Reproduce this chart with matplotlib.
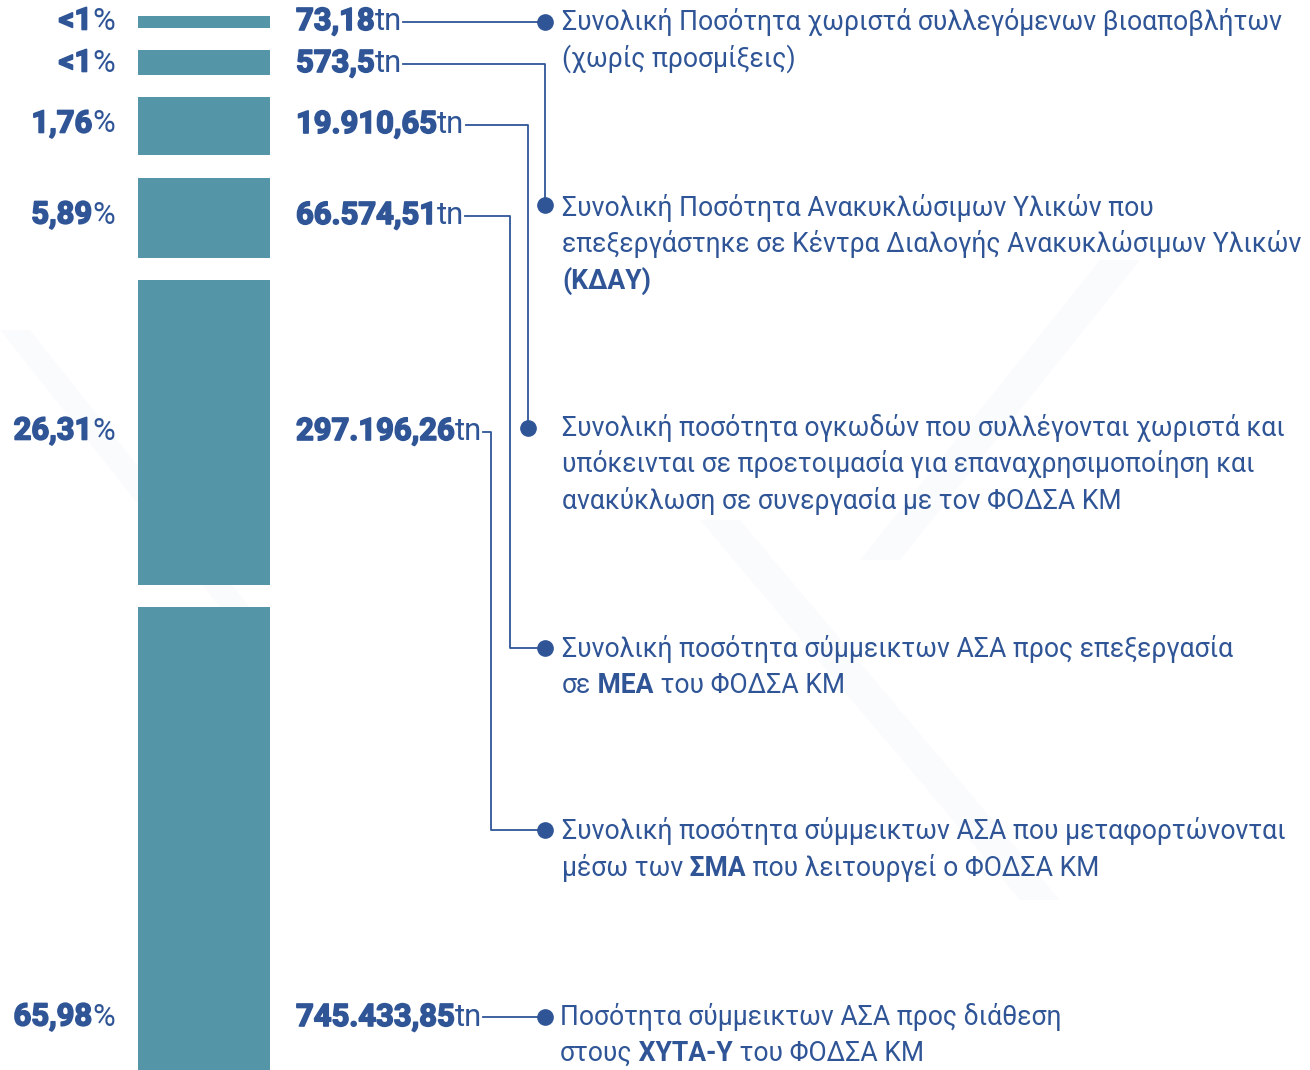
import matplotlib.pyplot as plt
import matplotlib.patheffects as pe
from matplotlib.patches import Polygon

# ---- data ----
pct_labels = ['<1', '<1', '1,76', '5,89', '26,31', '65,98']
tonnes = ['73,18', '573,5', '19.910,65', '66.574,51', '297.196,26', '745.433,85']

# each description: list of lines, each line a list of (text, bold?)
descriptions = [
    [[('Συνολική Ποσότητα χωριστά συλλεγόμενων βιοαποβλήτων', False)],
     [('(χωρίς προσμίξεις)', False)]],
    [[('Συνολική Ποσότητα Ανακυκλώσιμων Υλικών που', False)],
     [('επεξεργάστηκε σε Κέντρα Διαλογής Ανακυκλώσιμων Υλικών', False)],
     [('(ΚΔΑΥ)', True)]],
    [[('Συνολική ποσότητα ογκωδών που συλλέγονται χωριστά και', False)],
     [('υπόκεινται σε προετοιμασία για επαναχρησιμοποίηση και', False)],
     [('ανακύκλωση σε συνεργασία με τον ΦΟΔΣΑ ΚΜ', False)]],
    [[('Συνολική ποσότητα σύμμεικτων ΑΣΑ προς επεξεργασία', False)],
     [('σε', False), (' ΜΕΑ', True), (' του ΦΟΔΣΑ ΚΜ', False)]],
    [[('Συνολική ποσότητα σύμμεικτων ΑΣΑ που μεταφορτώνονται', False)],
     [('μέσω των', False), (' ΣΜΑ', True), (' που λειτουργεί ο ΦΟΔΣΑ ΚΜ', False)]],
    [[('Ποσότητα σύμμεικτων ΑΣΑ προς διάθεση', False)],
     [('στους', False), (' ΧΥΤΑ-Υ', True), (' του ΦΟΔΣΑ ΚΜ', False)]],
]

# ---- layout (pixels, y down) ----
seg_top = [16, 50, 97, 178, 280, 607]
seg_bot = [28, 75, 155, 258, 585, 1070]
row_y = [21, 63, 124, 215, 431, 1017]
desc_x = [562, 562, 562, 562, 562, 560]
desc_y = [22, 208, 428, 649, 831, 1017]
dot_x = [545, 545, 528, 545, 545, 545]
dot_y = [22, 205, 428, 648, 830, 1017]
route_x = [None, 545, 528, 510, 491, None]
LINE_STEP = 36.5

BLUE = '#2F5597'
TEAL = '#5496A7'
NUM_SIZE = 22.3
DESC_SIZE = 19.1
heavy = [pe.withStroke(linewidth=1.2, foreground=BLUE)]

fig = plt.figure(figsize=(13.1, 10.7), dpi=100)
ax = fig.add_axes([0, 0, 1, 1])
ax.set_xlim(0, 1310)
ax.set_ylim(1070, 0)
ax.axis('off')

# very faint background streaks
for pts in [[(700, 520), (740, 520), (1060, 900), (1020, 900)],
            [(0, 330), (30, 330), (260, 620), (230, 620)],
            [(1100, 260), (1140, 260), (900, 560), (860, 560)]]:
    ax.add_patch(Polygon(pts, closed=True, color='#f1f4fa', alpha=0.3, lw=0, zorder=0))

# stacked bar segments
ax.bar([204] * len(seg_top), [b - t for t, b in zip(seg_top, seg_bot)],
       bottom=seg_top, width=132, color=TEAL, zorder=2)


def runs_text(x, y, runs, size):
    t = ax.text(x, y, runs[0][0], family='Roboto', fontsize=size,
                fontweight='bold' if runs[0][1] else 'normal',
                color=BLUE, va='center', ha='left', zorder=3)
    for s, bold in runs[1:]:
        t = ax.annotate(s, xy=(1, 0), xycoords=t, va='bottom', ha='left',
                        family='Roboto', fontsize=size,
                        fontweight='bold' if bold else 'normal',
                        color=BLUE, zorder=3)
    return t


# percentage labels (right aligned)
for p, y in zip(pct_labels, row_y):
    pct = ax.text(115, y, '%', family='Roboto', fontweight='normal',
                  fontsize=NUM_SIZE, color=BLUE, va='center', ha='right', zorder=3)
    ax.annotate(p, xy=(0, 0), xycoords=pct, va='bottom', ha='right',
                family='Roboto', fontweight='bold', fontsize=NUM_SIZE,
                color=BLUE, zorder=3, path_effects=heavy)

# tonnage labels
tn_texts = []
for v, y in zip(tonnes, row_y):
    num = ax.text(296, y, v, family='Roboto', fontweight='bold',
                  fontsize=NUM_SIZE, color=BLUE, va='center', ha='left',
                  zorder=3, path_effects=heavy)
    tn = ax.annotate('tn', xy=(1, 0), xycoords=num, va='bottom', ha='left',
                     family='Roboto', fontweight='normal', fontsize=NUM_SIZE,
                     color=BLUE, zorder=3)
    tn_texts.append(tn)

# descriptions
for lines, x, y0 in zip(descriptions, desc_x, desc_y):
    for k, runs in enumerate(lines):
        runs_text(x, y0 + k * LINE_STEP, runs, DESC_SIZE)

# connectors
fig.canvas.draw()
inv = ax.transData.inverted()
for i, tn in enumerate(tn_texts):
    bb = tn.get_window_extent()
    x_end = inv.transform((bb.x1 + 1, 0))[0]
    if route_x[i] is None:
        xs, ys = [x_end, dot_x[i]], [dot_y[i], dot_y[i]]
    else:
        y = row_y[i] + 1
        xs = [x_end, route_x[i], route_x[i], dot_x[i]]
        ys = [y, y, dot_y[i], dot_y[i]]
    ax.plot(xs, ys, color=BLUE, lw=1.3, zorder=2)
    ax.plot(dot_x[i], dot_y[i], 'o', ms=11, color=BLUE, zorder=4)

fig.savefig('out.png', dpi=100, facecolor='white')
